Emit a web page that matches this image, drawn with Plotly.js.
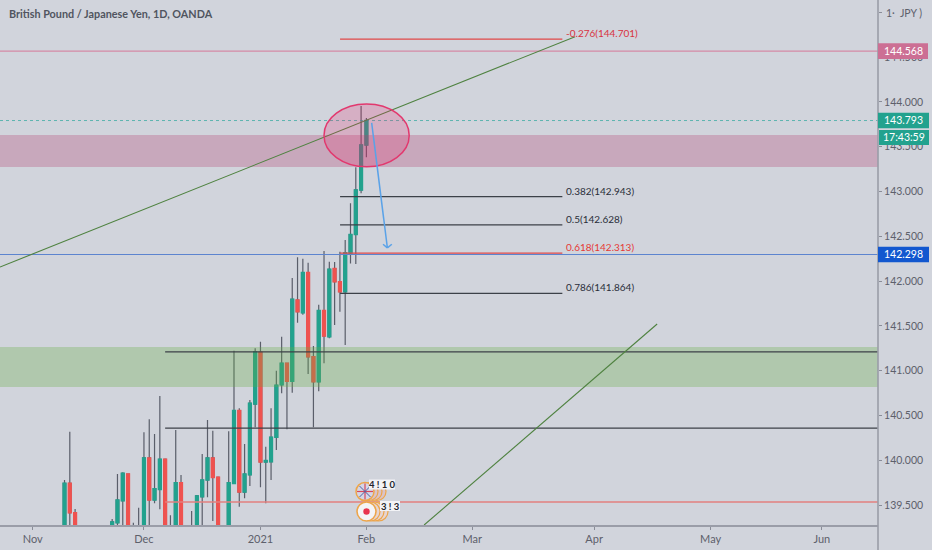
<!DOCTYPE html>
<html><head><meta charset="utf-8">
<script src="https://cdn.plot.ly/plotly-3.0.1.min.js"></script>
<style>html,body{margin:0;padding:0;background:#d1d4dc}#c{width:932px;height:550px}</style></head>
<body><div id="c"></div>
<script>
// Daily GBP/JPY bars, x = trading-bar number (weekends removed); 139.1-139.25 = off the bottom of the view
const barIndex = [0,1,2,9,10,11,12,13,14,15,16,17,18,19,20,21,22,24,25,26,27,28,29,31,32,33,34,35,36,37,38,39,40,41,42,43,44,45,46,47,48,49,50,51,52,53,54,55,56,57];
const openP  = [139.2,139.744,139.416,139.2,139.305,139.55,139.848,139.25,139.25,139.2,140.027,139.558,139.677,140.012,139.25,139.2,139.751,139.25,139.2,139.595,139.781,140.027,139.811,139.2,139.744,140.555,139.647,139.84,140.629,141.207,139.982,139.986,140.258,140.845,141.084,140.883,141.79,141.648,142.095,141.157,140.878,141.671,141.38,142.14,141.994,141.883,142.315,142.521,143.018,143.52];
const highP  = [139.781,140.32,139.458,139.346,139.848,139.867,139.85,139.305,139.472,140.314,140.459,140.295,140.719,140.02,139.387,140.339,139.837,139.435,139.614,140.071,140.451,140.332,139.82,140.325,141.224,140.581,140.183,140.674,141.251,141.325,140.153,140.581,141.001,141.381,141.09,142.036,142.267,142.251,142.206,141.277,141.738,142.337,142.218,142.214,142.329,142.46,142.869,143.271,143.955,143.821];
const lowP   = [139.1,139.2,139.1,139.2,139.2,139.2,139.2,139.1,139.2,139.1,139.2,139.521,139.454,139.1,139.2,139.1,139.1,139.2,139.1,139.2,139.588,139.324,139.1,139.1,139.744,139.483,139.577,139.714,140.369,139.7,139.521,139.781,140.116,140.749,140.347,140.756,141.537,141.626,140.964,140.369,140.771,141.084,141.363,141.511,141.66,141.288,142.198,142.192,142.981,143.383];
const closeP = [139.744,139.416,139.1,139.313,139.558,139.856,139.2,139.2,139.27,140.027,139.558,139.684,140.012,139.2,139.27,139.751,139.2,139.27,139.603,139.781,140.027,139.811,139.2,139.751,140.555,139.647,139.848,140.637,141.213,139.982,139.997,140.258,140.838,141.084,140.883,141.798,141.66,142.095,141.157,140.878,141.671,141.388,142.133,141.994,141.883,142.315,142.521,143.018,143.52,143.793];

const monthBars   = [-6,15,37,57,77,100,122,143];
const monthLabels = ['Nov','Dec','2021','Feb','Mar','Apr','May','Jun'];
const priceTicks  = [139.5,140,140.5,141,141.5,142,142.5,143,143.5,144,144.5,145];
const priceLabels = ['139.500','140.000','140.500','141.000','141.500','142.000','142.500','143.000','143.500','144.000','144.500',''];

const fibPrices = [144.701,142.943,142.628,142.313,141.864];
const fibLabels = ['-0.276(144.701)','0.382(142.943)','0.5(142.628)','0.618(142.313)','0.786(141.864)'];
const fibColors = ['#d8323f','#2a2e39','#2a2e39','#e53935','#2a2e39'];

const FONT = 'Lato, "Open Sans", sans-serif';
const UP = '#22a28e', DOWN = '#ef5350', WICK = '#5a5e6a';
const XR = [-12.18,153.6], YR = [139.279,145.138];
const W = 878, H = 525;
const bx = px => XR[0] + (XR[1]-XR[0])*px/W;
const py = y => YR[1] - (YR[1]-YR[0])*y/H;

const upper = barIndex.map((_,i)=>Math.max(openP[i],closeP[i]));
const lower = barIndex.map((_,i)=>Math.min(openP[i],closeP[i]));

const wicks = {type:'candlestick',x:barIndex,open:openP,high:highP,low:lowP,close:closeP,
  increasing:{line:{color:WICK,width:1.2},fillcolor:UP},decreasing:{line:{color:WICK,width:1.2},fillcolor:DOWN},hoverinfo:'skip',showlegend:false};
const bodies = {type:'candlestick',x:barIndex,open:openP,high:upper,low:lower,close:closeP,
  increasing:{line:{color:UP,width:1.6},fillcolor:UP},decreasing:{line:{color:DOWN,width:1.6},fillcolor:DOWN},hoverinfo:'skip',showlegend:false};

const line=(x0,y0,x1,y1,color,width,dash)=>({type:'line',layer:'above',xref:'x',yref:'y',x0,y0,x1,y1,line:{color,width,dash:dash||'solid'}});
const rect=(y0,y1,fill)=>({type:'rect',layer:'above',xref:'x',yref:'y',x0:XR[0],x1:XR[1],y0,y1,fillcolor:fill,line:{width:0}});
const oval=(cx,cy,rx,ry,fill,stroke,w)=>({type:'circle',layer:'above',xref:'x',yref:'y',x0:bx(cx-rx),x1:bx(cx+rx),y0:py(cy+ry),y1:py(cy-ry),fillcolor:fill,line:{color:stroke,width:w}});
const circ=(cx,cy,r,fill,stroke,w)=>oval(cx,cy,r,r,fill,stroke,w);
const boxPx=(x0,y0,x1,y1,fill)=>({type:'rect',layer:'above',xref:'paper',yref:'paper',x0:x0/W,x1:x1/W,y0:1-y1/H,y1:1-y0/H,fillcolor:fill,line:{width:0}});

const fibStart=52.03, fibEnd=94.0, hStart=19;
const shapes=[
  rect(143.274,143.632,'rgba(180,65,117,0.3)'),
  rect(140.82,141.265,'rgba(99,172,67,0.3)'),
  line(XR[0],144.568,XR[1],144.568,'#d48aa6',1.3),
  line(XR[0],143.793,XR[1],143.793,'rgba(38,166,154,0.75)',0.9,'dot'),
  line(XR[0],142.298,XR[1],142.298,'#5c84cf',1.2),
  line(hStart,141.21,XR[1],141.21,'#3c4148',1.2),
  line(hStart,140.36,XR[1],140.36,'#3c4148',1.2),
  line(hStart,139.535,XR[1],139.535,'#e2807f',1.6),
  line(-12.18,142.158,96.4,144.729,'#4f8240',1.1),
  line(67.9,139.279,111.9,141.522,'#4f8240',1.1),
  ...fibPrices.map((p,i)=>line(fibStart,p,fibEnd,p,fibColors[i]==='#2a2e39'?'#3c4148':'#e04848',1.3)),
  oval(366.6,135.4,42.6,31.4,'rgba(233,30,99,0.2)','#e2386e',1.5),
  line(58.0,143.766,60.96,142.371,'#5aa2e8',1.5),
  line(60.15,142.412,60.96,142.371,'#5aa2e8',1.5),
  line(61.8,142.412,60.96,142.371,'#5aa2e8',1.5)
];
// event flags near the axis
[12,8,4].forEach(o=>{shapes.push(circ(365+o,491.5,9,'#d9c3c9','#eda54a',1.2));});
shapes.push(circ(365,491.5,9,'#d5d6e6','#eda54a',1.5));
shapes.push(line(bx(357),py(491.5),bx(373),py(491.5),'#d8465a',1.2));
shapes.push(line(bx(365),py(483.5),bx(365),py(499.5),'#d8465a',1.2));
shapes.push(line(bx(359.5),py(486),bx(370.5),py(497),'#4b5fa5',1));
shapes.push(line(bx(359.5),py(497),bx(370.5),py(486),'#4b5fa5',1));
[12,8,4].forEach(o=>{shapes.push(circ(366.5+o,511.5,9.5,'#e6d5d2','#eda54a',1.2));});
shapes.push(circ(366.5,511.5,9.5,'#f4f4f6','#eda54a',1.6));
shapes.push(circ(366.5,511.5,3.2,'#e8344e','#e8344e',0));
shapes.push(boxPx(369,479.5,395,489.5,'#f2f3f6'));
shapes.push(boxPx(380,501,400,511,'#f2f3f6'));
// price scale
shapes.push({type:'line',layer:'above',xref:'paper',yref:'paper',x0:1,x1:1,y0:-25/H,y1:1,line:{color:'#9a9da8',width:1.6}});
shapes.push(boxPx(878,43.3,928,59,'#cc6f94'));
shapes.push(boxPx(878,112.7,929,128.3,'#22a28e'));
shapes.push(boxPx(879,130,929,145,'#22a28e'));
shapes.push(boxPx(878,246.7,929,262.3,'#1257cf'));

const ann=(x,y,text,size,color,anchor,bold)=>({xref:'paper',yref:'paper',x:x/W,y:1-y/H,text:bold?'<b>'+text+'</b>':text,showarrow:false,xanchor:anchor||'left',yanchor:'middle',font:{family:FONT,size,color}});
const annotations=[
  ann(7,14,'British Pound / Japanese Yen, 1D, OANDA',10.8,'#50545f','left',true),
  ann(903.5,13,'1·  JPY )',10.5,'#5d606b','center'),
  ann(903.5,51.2,'144.568',10.5,'#ffffff','center'),
  ann(903.5,120.5,'143.793',10.5,'#ffffff','center'),
  ann(903.5,137.5,'17:43:59',10.5,'#ffffff','center'),
  ann(903.5,254.5,'142.298',10.5,'#ffffff','center'),
  ann(382,484.5,'4 ! 1 0',9.5,'#23252c','center',true),
  ann(390,506,'3 ! 3',9.5,'#23252c','center',true),
  ...fibLabels.map((t,i)=>({xref:'x',yref:'y',x:94.3,y:fibPrices[i],text:t,showarrow:false,xanchor:'left',yanchor:'middle',yshift:6,font:{family:FONT,size:10,color:fibColors[i]}}))
];

Plotly.newPlot('c',[wicks,bodies],{
  width:932,height:550,margin:{l:0,r:54,t:0,b:25,pad:0},
  paper_bgcolor:'#d1d4dc',plot_bgcolor:'#d1d4dc',showlegend:false,hovermode:false,
  font:{family:FONT,size:11,color:'#5d606b'},
  xaxis:{range:XR,type:'linear',tickmode:'array',tickvals:monthBars,ticktext:monthLabels,showgrid:false,zeroline:false,
    showline:true,linecolor:'#9a9da8',linewidth:1.6,ticks:'outside',ticklen:3,tickcolor:'#8a8d98',tickwidth:1,
    tickfont:{family:FONT,size:11,color:'#5d606b'},rangeslider:{visible:false},fixedrange:true},
  yaxis:{range:YR,side:'right',tickmode:'array',tickvals:priceTicks,ticktext:priceLabels,showgrid:false,zeroline:false,
    showline:false,ticks:'outside',ticklen:3,tickcolor:'#8a8d98',tickwidth:1,
    tickfont:{family:FONT,size:10.5,color:'#5d606b'},fixedrange:true},
  shapes,annotations
},{displayModeBar:false,staticPlot:true});
</script></body></html>
